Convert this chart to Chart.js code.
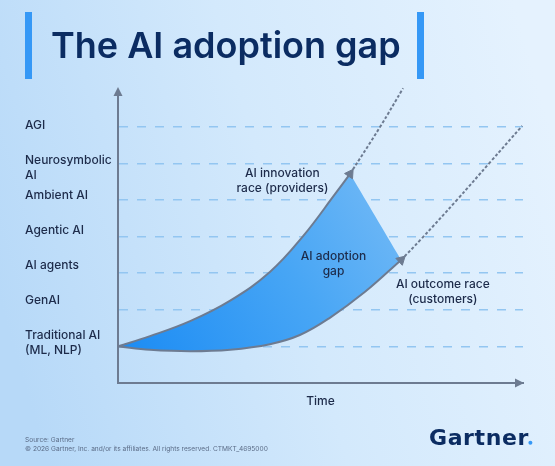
<!DOCTYPE html>
<html>
<head>
<meta charset="utf-8">
<script src="https://cdn.jsdelivr.net/npm/chart.js@4/dist/chart.umd.min.js"></script>
<style>
  html, body { margin: 0; padding: 0; background: #d4e9fc; }
  #wrap { width: 555px; height: 466px; position: relative; }
</style>
</head>
<body>
<div id="wrap"><canvas id="c" width="555" height="466"></canvas></div>
<script>
// ---------------- data ----------------
const chartTitle = 'The AI adoption gap';
const xAxisTitle = 'Time';
const sourceLine = 'Source: Gartner';
const copyrightLine = '© 2026 Gartner, Inc. and/or its affiliates. All rights reserved. CTMKT_4695000';
const brandName = 'Gartner';

const levels = [1, 2, 3, 4, 5, 6, 7];
const levelLabels = [
  ['Traditional AI', '(ML, NLP)'],
  ['GenAI'],
  ['AI agents'],
  ['Agentic AI'],
  ['Ambient AI'],
  ['Neurosymbolic', 'AI'],
  ['AGI']
];

// AI innovation race (providers) – solid part and dashed projection
const innovationTime  = [0, 7.9, 17.8, 27.7, 37.5, 45.7, 53.8, 57.3];
const innovationLevel = [1.0, 1.28, 1.69, 2.25, 3.03, 4.01, 5.19, 5.71];
const innovationProjTime  = [57.3, 64.7, 70.4];
const innovationProjLevel = [5.71, 6.99, 8.05];

// AI outcome race (customers) – solid part and dashed projection
const outcomeTime  = [0, 7.9, 17.8, 27.7, 37.5, 44.9, 52.3, 61.0, 69.9];
const outcomeLevel = [1.0, 0.91, 0.87, 0.91, 1.06, 1.31, 1.78, 2.49, 3.36];
const outcomeProjTime  = [69.9, 74.6, 83.7, 91.9, 99.8];
const outcomeProjLevel = [3.36, 3.90, 5.00, 6.03, 7.02];

const innovationText = ['AI innovation', 'race (providers)'];
const gapText = ['AI adoption', 'gap'];
const outcomeText = ['AI outcome race', '(customers)'];

// ---------------- styles / layout ----------------
const FONT = 'Inter, "Noto Sans", sans-serif';
const NAVY = '#0b2c62';
const TEXT = '#1d2b4a';
const AXIS = '#6d7b91';
const GRID = '#93c6f1';
const ACCENT = '#3598f6';

const annotations = [
  { lines: innovationText, x: 40.6, y: 5.53 },
  { lines: gapText, x: 53.2, y: 3.25 },
  { lines: outcomeText, x: 80.2, y: 2.48 }
];

const toPts = (xs, ys) => xs.map((x, i) => ({ x: x, y: ys[i] }));
const upper = toPts(innovationTime, innovationLevel);
const lower = toPts(outcomeTime, outcomeLevel);
const upperProj = toPts(innovationProjTime, innovationProjLevel);
const lowerProj = toPts(outcomeProjTime, outcomeProjLevel);
// closed outline of the gap: along innovation curve, straight edge across, back along outcome curve
const gapOutline = [...upper, upper[upper.length - 1], lower[lower.length - 1], ...lower.slice().reverse()];

function arrowRotation(c) {
  const data = c.dataset.data;
  const i = c.dataIndex;
  if (i !== data.length - 1) return 0;
  const xs = c.chart.scales.x, ys = c.chart.scales.y;
  const from = data[i - 1];
  const to = c.dataset.continuesTo ? c.dataset.continuesTo[1] : data[i];
  const dx = xs.getPixelForValue(to.x) - xs.getPixelForValue(from.x);
  const dy = ys.getPixelForValue(to.y) - ys.getPixelForValue(from.y);
  return Math.atan2(dx, -dy) * 180 / Math.PI;
}
const lastOnly = (r) => (c) => (c.dataIndex === c.dataset.data.length - 1 ? r : 0);

const bgPlugin = {
  id: 'bg',
  beforeDraw(chart) {
    const { ctx, width, height } = chart;
    ctx.save();
    const g = ctx.createLinearGradient(0, height * 0.65, width, height * 0.3);
    g.addColorStop(0, '#b7d9f8');
    g.addColorStop(0.5, '#d3e9fc');
    g.addColorStop(1, '#e5f2fe');
    ctx.fillStyle = g;
    ctx.fillRect(0, 0, width, height);
    ctx.restore();
  }
};

const decorPlugin = {
  id: 'decor',
  afterDatasetsDraw(chart) {
    const { ctx, scales: { x, y } } = chart;
    ctx.save();
    ctx.font = '500 12px ' + FONT;
    ctx.fillStyle = TEXT;
    ctx.textAlign = 'center';
    ctx.textBaseline = 'middle';
    annotations.forEach(a => {
      const n = a.lines.length;
      a.lines.forEach((l, i) => {
        ctx.fillText(l, x.getPixelForValue(a.x), y.getPixelForValue(a.y) + (i - (n - 1) / 2) * 15);
      });
    });
    ctx.restore();
  },
  afterDraw(chart) {
    const { ctx, chartArea: ca } = chart;
    ctx.save();
    // axis arrowheads
    ctx.fillStyle = AXIS;
    ctx.beginPath();
    ctx.moveTo(ca.left, ca.top - 3);
    ctx.lineTo(ca.left - 4.5, ca.top + 6);
    ctx.lineTo(ca.left + 4.5, ca.top + 6);
    ctx.closePath(); ctx.fill();
    ctx.beginPath();
    ctx.moveTo(ca.right + 1, ca.bottom);
    ctx.lineTo(ca.right - 8, ca.bottom - 4.5);
    ctx.lineTo(ca.right - 8, ca.bottom + 4.5);
    ctx.closePath(); ctx.fill();

    // title with accent bars
    ctx.fillStyle = ACCENT;
    ctx.fillRect(25, 12, 7, 67);
    ctx.fillRect(417, 12, 7, 67);
    ctx.fillStyle = NAVY;
    ctx.font = '600 36px ' + FONT;
    ctx.textAlign = 'left';
    ctx.textBaseline = 'alphabetic';
    ctx.fillText(chartTitle, 51, 57.5);

    // footer
    ctx.fillStyle = '#5a6b86';
    ctx.font = '6.6px ' + FONT;
    ctx.textBaseline = 'middle';
    ctx.fillText(sourceLine, 25, 440);
    ctx.fillText(copyrightLine, 25, 449);

    // brand
    ctx.fillStyle = NAVY;
    ctx.font = 'bold 22px "DejaVu Sans", ' + FONT;
    ctx.textBaseline = 'alphabetic';
    try { ctx.letterSpacing = '0.6px'; } catch (e) {}
    ctx.fillText(brandName, 429, 445);
    const w = ctx.measureText(brandName).width;
    try { ctx.letterSpacing = '0px'; } catch (e) {}
    ctx.fillStyle = ACCENT;
    ctx.beginPath();
    ctx.arc(429 + w + 1.5, 442.8, 2, 0, Math.PI * 2);
    ctx.fill();
    ctx.restore();
  }
};

new Chart(document.getElementById('c'), {
  type: 'line',
  data: {
    datasets: [
      {
        label: 'AI innovation race (providers)',
        data: upper,
        continuesTo: upperProj,
        borderColor: AXIS, borderWidth: 2, tension: 0.4, fill: false,
        pointStyle: 'triangle', pointRadius: lastOnly(5.5), pointHoverRadius: 0,
        pointBackgroundColor: AXIS, pointBorderColor: AXIS, pointBorderWidth: 1,
        pointRotation: arrowRotation, order: 1
      },
      {
        label: 'AI outcome race (customers)',
        data: lower,
        continuesTo: lowerProj,
        borderColor: AXIS, borderWidth: 2, tension: 0.4, fill: false,
        pointStyle: 'triangle', pointRadius: lastOnly(5.5), pointHoverRadius: 0,
        pointBackgroundColor: AXIS, pointBorderColor: AXIS, pointBorderWidth: 1,
        pointRotation: arrowRotation, order: 1
      },
      {
        label: 'Innovation projection',
        data: upperProj,
        borderColor: AXIS, borderWidth: 2, borderDash: [3, 2], tension: 0.4,
        pointRadius: 0, fill: false, clip: false, order: 2
      },
      {
        label: 'Outcome projection',
        data: lowerProj,
        borderColor: AXIS, borderWidth: 2, borderDash: [3, 2], tension: 0.4,
        pointRadius: 0, fill: false, clip: false, order: 2
      },
      {
        label: 'AI adoption gap',
        data: gapOutline,
        borderWidth: 0, borderColor: 'rgba(0,0,0,0)', tension: 0.4, pointRadius: 0,
        fill: 'shape', order: 3,
        backgroundColor: (c) => {
          const ch = c.chart;
          const ca = ch.chartArea;
          if (!ca) return '#3d9ff5';
          const g = ch.ctx.createLinearGradient(ca.left, ca.bottom - 40, ca.left + 290, ca.top + 80);
          g.addColorStop(0, '#1c8cf4');
          g.addColorStop(0.55, '#48a6f5');
          g.addColorStop(1, '#78bcf6');
          return g;
        }
      }
    ]
  },
  options: {
    responsive: false,
    animation: false,
    events: [],
    layout: { padding: { left: 25, right: 32, top: 90, bottom: 53 } },
    plugins: { legend: { display: false }, tooltip: { enabled: false }, title: { display: false } },
    scales: {
      x: {
        type: 'linear', min: 0, max: 100,
        ticks: { display: false },
        grid: { display: false },
        border: { color: AXIS, width: 2 },
        title: { display: true, text: xAxisTitle, color: TEXT, font: { family: FONT, size: 12, weight: '500' }, padding: { top: 0, bottom: 4 } },
        afterFit: (s) => { s.height = 30; }
      },
      y: {
        type: 'linear', min: 0, max: 8, position: 'left', weight: 1,
        afterBuildTicks: (s) => { s.ticks = levels.map(v => ({ value: v })); },
        ticks: { display: false },
        grid: { color: GRID, lineWidth: 1.5, drawTicks: false },
        border: { color: AXIS, width: 2, dash: [9, 9] },
        afterFit: (s) => { s.width = 0; }
      },
      yLabels: {
        type: 'linear', min: -0.38, max: 8.03, position: 'left', weight: 2,
        afterBuildTicks: (s) => { s.ticks = levels.map(v => ({ value: v })); },
        ticks: {
          crossAlign: 'far', color: TEXT, padding: 0,
          font: { family: FONT, size: 12, weight: '500', lineHeight: 1.25 },
          callback: (v) => {
            const lines = levelLabels[levels.indexOf(v)] || '';
            return lines.length > 1 ? [''].concat(lines) : lines;
          }
        },
        grid: { display: false, drawTicks: false },
        border: { display: false },
        afterFit: (s) => { s.width = 93; }
      }
    }
  },
  plugins: [bgPlugin, decorPlugin]
});
</script>
</body>
</html>
